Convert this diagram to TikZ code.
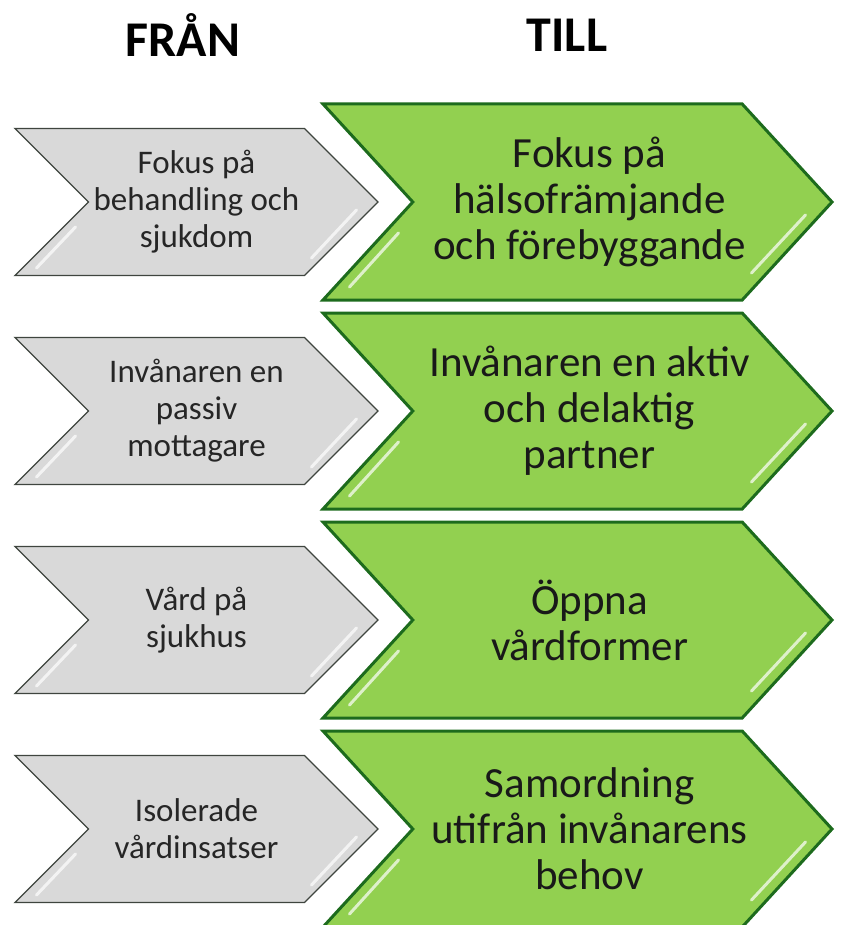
\documentclass[tikz,border=0pt]{standalone}
\usepackage{fontspec}
\setmainfont{Carlito}
\usepackage{tikz}
\usetikzlibrary{shapes.symbols, calc}

\definecolor{fromgrey}{HTML}{D9D9D9}
\definecolor{fromline}{HTML}{3F453F}
\definecolor{tillgreen}{HTML}{92D050}
\definecolor{tillline}{HTML}{1D6B1D}

\begin{document}
\begin{tikzpicture}[
    x=1pt, y=-1pt,
    heading/.style={font=\fontsize{50}{56}\selectfont\bfseries},
    fromarrow/.style={signal, signal from=west, signal to=east, signal pointer angle=90, draw=fromline, fill=fromgrey, line width=1.3pt, minimum width=363pt, minimum height=147pt, inner sep=0pt},
    tillarrow/.style={signal, signal from=west, signal to=east, signal pointer angle=95, draw=tillline, fill=tillgreen, line width=3pt, minimum width=509pt, minimum height=196pt, inner sep=0pt},
    fromtext/.style={align=center, font=\fontsize{33}{37}\selectfont, text=black!85},
    tilltext/.style={align=center, font=\fontsize{43}{46}\selectfont, text=black!90, xshift=12pt},
    shine/.style={draw=white, opacity=0.7, line width=3pt, line cap=round}
]
\useasboundingbox (0,0) rectangle (846,925);

% Headings
\node[heading] (franhead) at (183,35) {FRÅN};
\node[heading] (tillhead) at (567,35) {TILL};

% From (grey, left)
\node[fromarrow, label={[fromtext]center:{Fokus på\\behandling och\\sjukdom}}] (fran1) at (196.5,202) {};
\node[fromarrow, label={[fromtext]center:{Invånaren en\\passiv\\mottagare}}] (fran2) at (196.5,411) {};
\node[fromarrow, label={[fromtext]center:{Vård på\\sjukhus}}] (fran3) at (196.5,620) {};
\node[fromarrow, label={[fromtext]center:{Isolerade\\vårdinsatser}}] (fran4) at (196.5,829) {};

% Till (green, right)
\node[tillarrow, label={[tilltext]center:{Fokus på\\hälsofrämjande\\och förebyggande}}] (till1) at (577.5,202) {};
\node[tillarrow, label={[tilltext]center:{Invånaren en aktiv\\och delaktig\\partner}}] (till2) at (577.5,411) {};
\node[tillarrow, label={[tilltext]center:{Öppna\\vårdformer}}] (till3) at (577.5,620) {};
\node[tillarrow, label={[tilltext]center:{Samordning\\utifrån invånarens\\behov}}] (till4) at (577.5,829) {};

% Bevel highlights
\foreach \n in {fran1,fran2,fran3,fran4} {
    \draw[shine] ($(\n)+(-160,66)$) -- ($(\n)+(-121,25)$);
    \draw[shine] ($(\n)+(115,56)$) -- ($(\n)+(160,8)$);
}
\foreach \n in {till1,till2,till3,till4} {
    \draw[shine] ($(\n)+(-228,85)$) -- ($(\n)+(-179,31)$);
    \draw[shine] ($(\n)+(174,71)$) -- ($(\n)+(228,13)$);
}

\end{tikzpicture}
\end{document}
